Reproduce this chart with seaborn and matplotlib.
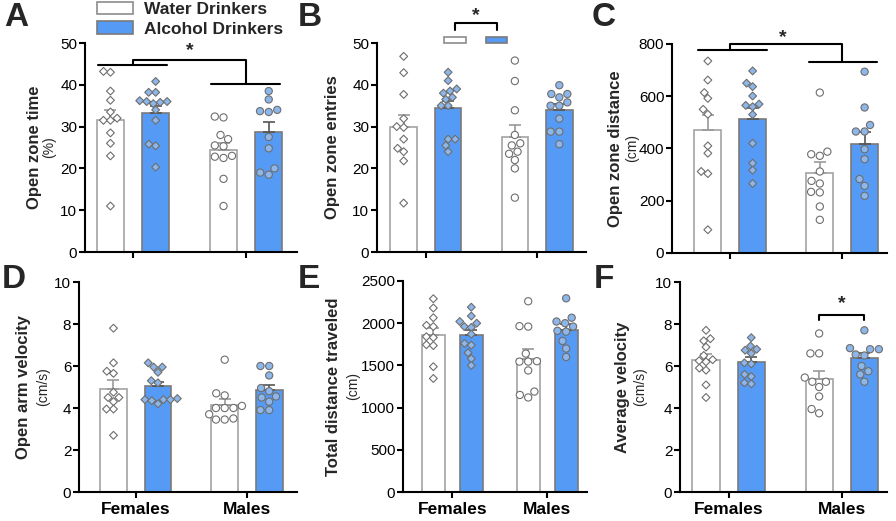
import pandas as pd
import seaborn as sns
import matplotlib.pyplot as plt
from matplotlib.patches import Rectangle

sns.set_theme(style='ticks')
plt.rcParams['font.family'] = ['Liberation Sans', 'DejaVu Sans']

sexes = ['Females', 'Males']
groups = ['Water Drinkers', 'Alcohol Drinkers']
bar_colors = {'Water Drinkers': 'white', 'Alcohol Drinkers': '#559bf5'}
point_colors = {'Water Drinkers': 'white', 'Alcohol Drinkers': '#8db6ea'}

# A - open zone time (%)
time_f_water = [43.0, 43.2, 38.5, 36.3, 33.5, 31.5, 32.0, 31.5, 28.5, 26.0, 23.0, 11.0]
time_f_alc = [40.8, 38.2, 38.2, 36.0, 36.0, 35.8, 36.2, 35.5, 34.0, 31.5, 25.8, 25.4, 20.3]
time_m_water = [32.2, 32.4, 28.0, 27.0, 25.5, 25.3, 23.0, 22.8, 22.5, 17.5, 11.0]
time_m_alc = [38.5, 36.5, 33.5, 33.7, 34.0, 27.5, 24.8, 20.0, 18.5, 19.0]

# B - open zone entries
entries_f_water = [46.8, 42.9, 37.7, 31.9, 30.0, 29.8, 27.0, 24.0, 24.8, 21.8, 11.7]
entries_f_alc = [43.0, 41.0, 38.5, 38.0, 39.0, 36.5, 37.0, 35.0, 35.0, 27.0, 27.0, 25.5, 24.0]
entries_m_water = [45.8, 40.9, 33.9, 28.0, 25.5, 26.0, 24.0, 23.5, 22.0, 20.0, 13.0]
entries_m_alc = [39.9, 37.8, 37.0, 37.8, 35.0, 35.0, 35.8, 31.9, 28.8, 28.8, 25.8]

# C - open zone distance (cm)
dist_f_water = [735, 662, 614, 592, 550, 531, 410, 382, 312, 304, 89]
dist_f_alc = [697, 650, 637, 601, 570, 565, 560, 530, 420, 344, 317, 266]
dist_m_water = [614, 378, 388, 372, 312, 266, 276, 232, 234, 178, 127]
dist_m_alc = [694, 557, 490, 465, 465, 397, 359, 283, 257, 219]

# D - open arm velocity (cm/s)
vel_f_water = [7.8, 6.15, 5.75, 5.65, 4.5, 4.75, 4.5, 4.3, 3.95, 3.95, 2.7]
vel_f_alc = [6.15, 5.95, 5.95, 5.7, 5.3, 5.2, 4.45, 4.4, 4.4, 4.4, 4.2, 4.35]
vel_m_water = [6.3, 4.6, 4.7, 4.1, 4.0, 4.0, 4.0, 3.5, 3.45, 3.45, 3.7]
vel_m_alc = [6.0, 6.0, 5.55, 4.95, 4.8, 4.5, 4.55, 4.3, 3.9, 3.9]

# E - total distance traveled (cm)
total_f_water = [2290, 2180, 2065, 1975, 1960, 1840, 1830, 1745, 1735, 1485, 1345]
total_f_alc = [2190, 2085, 2000, 2020, 1960, 1950, 1870, 1740, 1760, 1650, 1580, 1500]
total_m_water = [2260, 1960, 1965, 1640, 1545, 1550, 1545, 1440, 1190, 1120, 1150]
total_m_alc = [2295, 2065, 2020, 2000, 1960, 1910, 1900, 1790, 1700, 1600]

# F - average velocity (cm/s)
avg_f_water = [7.7, 7.3, 7.2, 6.9, 6.5, 6.25, 6.3, 6.2, 5.8, 5.1, 4.5, 5.9]
avg_f_alc = [7.35, 6.95, 6.75, 6.8, 6.6, 6.15, 6.1, 5.6, 5.5, 5.2, 5.15]
avg_m_water = [7.55, 6.6, 6.6, 5.45, 5.25, 5.25, 5.0, 4.55, 3.95, 3.75]
avg_m_alc = [7.7, 6.85, 6.8, 6.8, 6.55, 6.5, 6.0, 5.75, 5.25, 5.6]


def long_df(fw, fa, mw, ma):
	parts = []
	for sex, grp, vals in [('Females', groups[0], fw), ('Females', groups[1], fa),
	                       ('Males', groups[0], mw), ('Males', groups[1], ma)]:
		parts.append(pd.DataFrame({'sex': sex, 'group': grp, 'value': vals}))
	return pd.concat(parts, ignore_index=True)


def panel(ax, df, ylim, ystep, xlim, ylabel, unit, lab_off, unit_off, xlabels):
	sns.barplot(data=df, x='sex', y='value', hue='group', order=sexes, hue_order=groups,
	            palette=bar_colors, saturation=1, errorbar=None, width=0.8, gap=0.4,
	            linewidth=1.2, edgecolor='#7a7a7a', legend=False, ax=ax)
	for p in ax.patches:
		if p.get_facecolor()[2] > 0.99 and p.get_facecolor()[0] > 0.99:
			p.set_edgecolor('#a3a3a3')

	stats = df.groupby(['sex', 'group'])['value'].agg(['mean', 'sem'])
	for i, sex in enumerate(sexes):
		for j, grp in enumerate(groups):
			m, s = stats.loc[(sex, grp)]
			col = '#9a9a9a' if j == 0 else '#555555'
			ax.errorbar(i + (j - 0.5) * 0.4, m, yerr=[[0], [s]], color=col, capsize=4,
			            elinewidth=1.2, capthick=1.2, zorder=2.5)

	for sex, mk, sz in [('Females', 'D', 4.0), ('Males', 'o', 5.2)]:
		sns.swarmplot(data=df[df.sex == sex], x='sex', y='value', hue='group', order=sexes,
		              hue_order=groups, dodge=True, palette=point_colors, marker=mk, size=sz,
		              edgecolor='#6e6e6e', linewidth=0.8, legend=False, ax=ax)
	for c in ax.collections:
		c.set_zorder(3)

	ax.set_ylim(*ylim)
	ax.set_yticks(range(0, int(ylim[1]) + 1, ystep))
	ax.set_xlim(*xlim)
	ax.set_xlabel('')
	ax.set_ylabel('')
	sns.despine(ax=ax)
	for s in ['left', 'bottom']:
		ax.spines[s].set_linewidth(1.5)
		ax.spines[s].set_color('black')
	ax.tick_params(width=1.5, length=4, pad=1.5, labelsize=11, colors='black')
	ax.tick_params(axis='x', pad=3)
	if xlabels:
		ax.set_xticks([0, 1], sexes, fontweight='bold', fontsize=12.5)
	else:
		ax.set_xticks([0, 1], ['', ''])
	ax.annotate(ylabel, xy=(0, 0.5), xycoords='axes fraction', xytext=(-lab_off, 0),
	            textcoords='offset pixels', rotation=90, ha='center', va='center',
	            fontweight='bold', fontsize=12)
	if unit:
		ax.annotate(unit, xy=(0, 0.5), xycoords='axes fraction', xytext=(-unit_off, 0),
		            textcoords='offset pixels', rotation=90, ha='center', va='center',
		            fontsize=10)


fig = plt.figure(figsize=(8.96, 5.21), dpi=100)
W, H = 896, 521


def add_ax(left, right, top, bottom):
	return fig.add_axes([left / W, 1 - bottom / H, (right - left) / W, (bottom - top) / H])


axA = add_ax(85, 297, 43, 252)
axB = add_ax(377, 586, 43, 252)
axC = add_ax(672, 887, 44, 253)
axD = add_ax(79, 297, 282, 492)
axE = add_ax(403, 587, 281, 492)
axF = add_ax(680, 887, 282, 492)

panel(axA, long_df(time_f_water, time_f_alc, time_m_water, time_m_alc), (0, 50), 10,
      (-0.425, 1.45), 'Open zone time', '(%)', 51, 36, False)
panel(axB, long_df(entries_f_water, entries_f_alc, entries_m_water, entries_m_alc), (0, 50), 10,
      (-0.44, 1.44), 'Open zone entries', None, 44, 0, False)
panel(axC, long_df(dist_f_water, dist_f_alc, dist_m_water, dist_m_alc), (0, 800), 200,
      (-0.52, 1.40), 'Open zone distance', '(cm)', 57, 40, False)
panel(axD, long_df(vel_f_water, vel_f_alc, vel_m_water, vel_m_alc), (0, 10), 2,
      (-0.51, 1.45), 'Open arm velocity', '(cm/s)', 56, 36, True)
panel(axE, long_df(total_f_water, total_f_alc, total_m_water, total_m_alc), (0, 2500), 500,
      (-0.52, 1.42), 'Total distance traveled', '(cm)', 70, 50, True)
panel(axF, long_df(avg_f_water, avg_f_alc, avg_m_water, avg_m_alc), (0, 10), 2,
      (-0.43, 1.40), 'Average velocity', '(cm/s)', 58, 40, True)

line_kw = dict(color='black', lw=1.5, clip_on=False)
star_kw = dict(ha='center', va='center', fontsize=14, fontweight='bold')

# A: sex main effect
axA.plot([-0.31, 0.30], [44.8, 44.8], **line_kw)
axA.plot([0.69, 1.30], [40.1, 40.1], **line_kw)
axA.plot([0, 0, 1, 1], [44.8, 46.0, 46.0, 40.1], **line_kw)
axA.text(0.5, 48.3, '*', **star_kw)

# B: drinking main effect
axB.plot([0.26, 0.26, 0.64, 0.64], [53.2, 54.8, 54.8, 53.2], **line_kw)
axB.text(0.45, 56.6, '*', **star_kw)
axB.add_patch(Rectangle((0.16, 50.1), 0.2, 1.3, fc='white', ec='#8c8c8c', lw=1.2, clip_on=False))
axB.add_patch(Rectangle((0.54, 50.1), 0.19, 1.3, fc='#559bf5', ec='#7a7a7a', lw=1.2, clip_on=False))

# C: sex main effect
axC.plot([-0.29, 0.33], [776, 776], **line_kw)
axC.plot([0.70, 1.31], [733, 733], **line_kw)
axC.plot([0, 0, 1, 1], [776, 799, 799, 733], **line_kw)
axC.text(0.47, 826, '*', **star_kw)

# F: males water vs alcohol
axF.plot([0.8, 0.8, 1.2, 1.2], [8.17, 8.41, 8.41, 8.17], **line_kw)
axF.text(1.0, 8.95, '*', **star_kw)

handles = [Rectangle((0, 0), 1, 1, fc='white', ec='#8c8c8c', lw=1.2),
           Rectangle((0, 0), 1, 1, fc='#559bf5', ec='#7a7a7a', lw=1.2)]
fig.legend(handles, groups, loc='upper left', bbox_to_anchor=(97 / W, 1 - 2 / H), frameon=False,
           borderpad=0, borderaxespad=0, handlelength=2.1, handleheight=0.7, handletextpad=0.6,
           labelspacing=0.25, prop={'weight': 'bold', 'size': 12.5})

for letter, x, y in [('A', 4, 2), ('B', 298, 2), ('C', 592, 2), ('D', 2, 264), ('E', 298, 264), ('F', 594, 264)]:
	fig.text(x / W, 1 - y / H, letter, ha='left', va='top', fontsize=24, fontweight='bold')

fig.savefig('out.png', dpi=100)
